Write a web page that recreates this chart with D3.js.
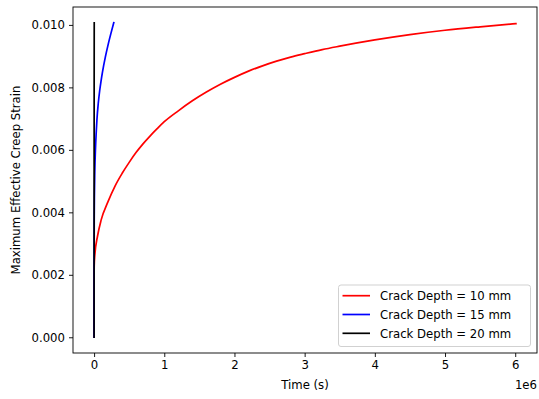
<!DOCTYPE html>
<html><head><meta charset="utf-8">
<script src="https://cdn.jsdelivr.net/npm/d3@7"></script>
<style>
body{margin:0;background:#fff;}
svg{display:block;font-family:"DejaVu Sans",sans-serif;}
</style></head>
<body>
<svg id="c" width="539" height="399"></svg>
<script>
// Data (time in s, strain)
const seriesNames = ["Crack Depth = 10 mm", "Crack Depth = 15 mm", "Crack Depth = 20 mm"];
const seriesColors = ["#ff0000", "#0000ff", "#000000"];
const red_t = [0, 500, 2000, 10000, 50000, 100000, 200000, 300000, 400000, 500000, 600000, 700000, 800000, 900000, 1000000, 1200000, 1400000, 1600000, 1800000, 2000000, 2200000, 2400000, 2600000, 2800000, 3000000, 3250000, 3500000, 4000000, 4500000, 5000000, 5500000, 6010000];
const red_s = [0, 0.0020, 0.0023, 0.00262, 0.00325, 0.00375, 0.00435, 0.00485, 0.00525, 0.0056, 0.00592, 0.0062, 0.00645, 0.00668, 0.0069, 0.00725, 0.00757, 0.00785, 0.0081, 0.00832, 0.00852, 0.00869, 0.00884, 0.00897, 0.00908, 0.00921, 0.00932, 0.00952, 0.00969, 0.00983, 0.00994, 0.01004];
const blue_t = [0, 500, 2000, 5000, 10000, 20000, 30000, 40000, 60000, 80000, 100000, 120000, 160000, 200000, 240000, 280000];
const blue_s = [0, 0.0025, 0.0038, 0.0046, 0.0053, 0.00605, 0.00655, 0.00695, 0.0075, 0.0079, 0.00822, 0.0085, 0.00897, 0.00937, 0.00973, 0.01007];
const black_t = [0, 500, 1000, 2000];
const black_s = [0, 0.004, 0.008, 0.01007];
const xTicks = [0, 1e6, 2e6, 3e6, 4e6, 5e6, 6e6];
const yTicks = [0, 0.002, 0.004, 0.006, 0.008, 0.010];

const series = [
  {name: seriesNames[0], color: seriesColors[0], pts: red_t.map((t,i)=>[t, red_s[i]])},
  {name: seriesNames[1], color: seriesColors[1], pts: blue_t.map((t,i)=>[t, blue_s[i]])},
  {name: seriesNames[2], color: seriesColors[2], pts: black_t.map((t,i)=>[t, black_s[i]])}
];

const FS = 11.7;
const L = 73, T = 7, R = 537, B = 353;
const svg = d3.select("#c");

const allX = series.flatMap(s=>s.pts.map(p=>p[0]));
const allY = series.flatMap(s=>s.pts.map(p=>p[1]));
const [x0,x1] = d3.extent(allX), [y0,y1] = d3.extent(allY);
const mx = (x1-x0)*0.05, my = (y1-y0)*0.05;
const x = d3.scaleLinear().domain([x0-mx, x1+mx]).range([L, R]);
const y = d3.scaleLinear().domain([y0-my, y1+my]).range([B, T]);

const line = d3.line().x(d=>x(d[0])).y(d=>y(d[1])).curve(d3.curveMonotoneX);
const g = svg.append("g");
series.forEach(s=>{
  g.append("path").attr("d", line(s.pts)).attr("fill","none")
   .attr("stroke", s.color).attr("stroke-width",1.7).attr("stroke-linejoin","round").attr("stroke-linecap","square");
});

// Axes
const xAxis = d3.axisBottom(x).tickValues(xTicks).tickSize(4).tickPadding(4).tickFormat(d=>d3.format("d")(d/1e6));
const yAxis = d3.axisLeft(y).tickValues(yTicks).tickSize(4).tickPadding(4).tickFormat(d3.format(".3f"));
const gx = svg.append("g").attr("transform",`translate(0,${B})`).call(xAxis);
const gy = svg.append("g").attr("transform",`translate(${L},0)`).call(yAxis);
[gx,gy].forEach(a=>{
  a.select(".domain").remove();
  a.selectAll("line").attr("stroke","#000").attr("stroke-width",0.9);
  a.selectAll("text").attr("font-size",FS).attr("fill","#000").attr("font-family","DejaVu Sans");
});

// Frame
svg.append("rect").attr("x",L).attr("y",T).attr("width",R-L).attr("height",B-T)
  .attr("fill","none").attr("stroke","#000").attr("stroke-width",0.9);

// Labels
svg.append("text").attr("x",(L+R)/2).attr("y",389).attr("text-anchor","middle").attr("font-size",FS).text("Time (s)");
svg.append("text").attr("x",R).attr("y",389).attr("text-anchor","end").attr("font-size",FS).text("1e6");
svg.append("text").attr("transform",`translate(20,${(T+B)/2}) rotate(-90)`).attr("text-anchor","middle").attr("font-size",FS).text("Maximum Effective Creep Strain");

// Legend
const lg = svg.append("g");
lg.append("rect").attr("x",338.5).attr("y",285).attr("width",192).attr("height",61.5).attr("rx",2.5)
  .attr("fill","#fff").attr("fill-opacity",0.8).attr("stroke","#cccccc").attr("stroke-width",0.9);
series.forEach((s,i)=>{
  const yy = 295.7 + i*18.8;
  lg.append("line").attr("x1",342.5).attr("x2",370).attr("y1",yy).attr("y2",yy).attr("stroke",s.color).attr("stroke-width",1.7);
  lg.append("text").attr("x",380).attr("y",yy).attr("dy","0.36em").attr("font-size",FS).text(s.name);
});
</script>
</body></html>
